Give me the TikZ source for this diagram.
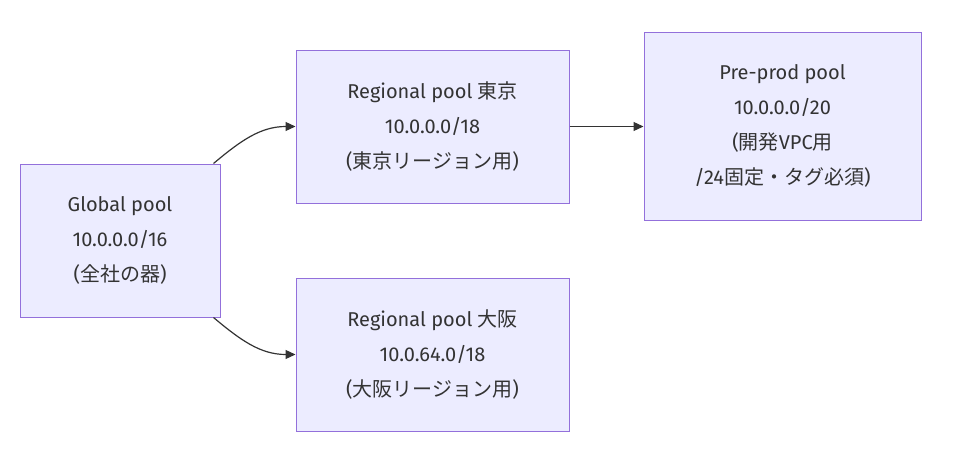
\documentclass[tikz,border=0pt]{standalone}
\usepackage{fontspec}
\setmainfont{Fira Sans}
\newfontfamily\jp{Noto Sans CJK JP}
\usetikzlibrary{arrows.meta}
\definecolor{boxfill}{HTML}{ECECFF}
\definecolor{boxline}{HTML}{9370DB}
\definecolor{ink}{HTML}{333333}
\tikzset{
  pool/.style={draw=boxline, fill=boxfill, line width=1pt, text=ink, align=center,
    font=\fontsize{20}{35}\selectfont, inner sep=0pt},
  link/.style={draw=ink, line width=1.2pt, -{Triangle[length=10pt,width=9pt]}}
}
\begin{document}
\begin{tikzpicture}[x=1pt,y=-1pt]
\useasboundingbox (0,0) rectangle (953,466);
\node[pool, minimum width=200pt, minimum height=153pt] (glob) at (120,240.5) {Global pool\\10.0.0.0/16\\({\jp 全社の器})};
\node[pool, minimum width=273pt, minimum height=153pt] (tokyo) at (432.5,126.5) {Regional pool {\jp 東京}\\10.0.0.0/18\\({\jp 東京リージョン用})};
\node[pool, minimum width=273pt, minimum height=153pt] (osaka) at (432.5,354.5) {Regional pool {\jp 大阪}\\10.0.64.0/18\\({\jp 大阪リージョン用})};
\node[pool, minimum width=277pt, minimum height=188pt] (preprod) at (782.5,126) {Pre-prod pool\\10.0.0.0/20\\({\jp 開発}VPC{\jp 用}\\/24{\jp 固定・タグ必須})};
\draw[link] ([xshift=-7pt]glob.north east) to[out=40,in=180] (tokyo.west);
\draw[link] ([xshift=-7pt]glob.south east) to[out=-40,in=180] (osaka.west);
\draw[link] (tokyo.east) -- (preprod.west |- tokyo.east);
\end{tikzpicture}
\end{document}
